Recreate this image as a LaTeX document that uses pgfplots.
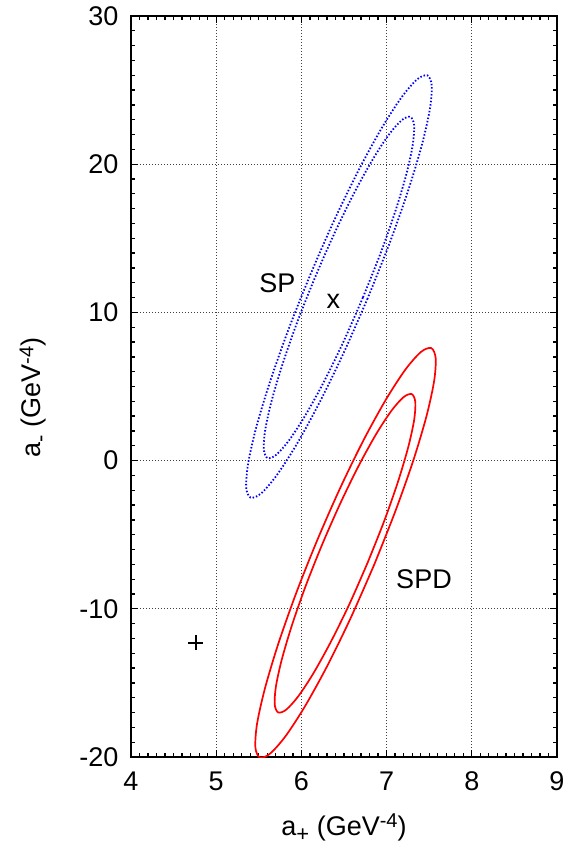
\documentclass[border=0pt]{standalone}
\usepackage{fontspec}
\setmainfont{Liberation Sans}
\usepackage{pgfplots}
\pgfplotsset{compat=1.18}
\newcommand{\sbs}[1]{\raisebox{-6.5pt}{\fontsize{22}{26}\selectfont #1}}
\newcommand{\sps}[1]{\raisebox{7.5pt}{\fontsize{20}{24}\selectfont #1}}
\begin{document}
\begin{tikzpicture}
\useasboundingbox (-131pt,-91pt) rectangle (437pt,757pt);
\begin{axis}[
  scale only axis,
  width=426pt, height=741pt,
  xmin=4, xmax=9, ymin=-20, ymax=30,
  xtick={4,5,6,7,8,9},
  ytick={-20,-10,0,10,20,30},
  minor x tick num=9,
  minor y tick num=9,
  tick align=inside,
  xtick pos=both, ytick pos=both,
  major tick length=7pt,
  minor tick length=4pt,
  every tick/.style={line width=1.3pt, black},
  axis line style={line width=2pt},
  grid=major,
  grid style={line width=0.8pt, dash pattern=on 0.8pt off 2.2pt, black!75},
  /pgf/number format/assume math mode=true,
  tick label style={font=\fontsize{27}{32}\selectfont},
  xticklabel style={yshift=-11pt},
  yticklabel style={xshift=-9pt},
  label style={font=\fontsize{27}{32}\selectfont},
  xlabel={a\sbs{+} (GeV\sps{-4})},
  ylabel={a\sbs{-} (GeV\sps{-4})},
  xlabel style={at={(axis description cs:0.5,-0.1053)}, anchor=base},
  ylabel style={at={(axis description cs:-0.2113,0.485)}, anchor=base},
  clip=true,
]
% SP, outer contour (blue dotted)
\addplot[blue, line width=1.8pt, dash pattern=on 1.5pt off 1.9pt, smooth] coordinates {
(6.777,10.939) (6.497,7.280) (6.213,3.925) (5.945,1.103) (5.710,-0.993) (5.526,-2.221) (5.403,-2.498) (5.352,-1.804) (5.375,-0.185) (5.470,2.245) (5.632,5.324) (5.848,8.841) (6.106,12.555) (6.385,16.214) (6.669,19.569) (6.938,22.391) (7.172,24.487) (7.356,25.715) (7.479,25.992) (7.530,25.298) (7.507,23.679) (7.412,21.249) (7.250,18.170) (7.034,14.653) (6.777,10.939)
};
% SP, inner contour
\addplot[blue, line width=1.8pt, dash pattern=on 1.5pt off 1.9pt, smooth] coordinates {
(6.722,11.003) (6.496,8.047) (6.266,5.338) (6.047,3.061) (5.856,1.373) (5.704,0.387) (5.603,0.169) (5.559,0.737) (5.575,2.050) (5.650,4.020) (5.779,6.511) (5.952,9.355) (6.160,12.358) (6.386,15.313) (6.616,18.022) (6.835,20.299) (7.026,21.987) (7.178,22.973) (7.279,23.191) (7.323,22.623) (7.307,21.310) (7.233,19.340) (7.104,16.849) (6.930,14.005) (6.722,11.003)
};
% SPD, outer contour (red solid)
\addplot[red, line width=1.7pt, smooth] coordinates {
(6.854,-7.029) (6.582,-10.576) (6.306,-13.827) (6.044,-16.559) (5.815,-18.586) (5.633,-19.771) (5.512,-20.033) (5.460,-19.353) (5.479,-17.778) (5.570,-15.416) (5.725,-12.428) (5.934,-9.015) (6.183,-5.413) (6.454,-1.866) (6.730,1.385) (6.992,4.117) (7.221,6.144) (7.403,7.329) (7.524,7.591) (7.576,6.911) (7.557,5.336) (7.467,2.974) (7.312,-0.014) (7.102,-3.427) (6.854,-7.029)
};
% SPD, inner contour
\addplot[red, line width=1.7pt, smooth] coordinates {
(6.777,-6.893) (6.566,-9.652) (6.350,-12.179) (6.146,-14.302) (5.967,-15.877) (5.824,-16.796) (5.729,-16.997) (5.687,-16.466) (5.701,-15.238) (5.771,-13.399) (5.891,-11.073) (6.053,-8.419) (6.247,-5.617) (6.459,-2.858) (6.674,-0.331) (6.878,1.792) (7.057,3.367) (7.200,4.286) (7.295,4.487) (7.337,3.956) (7.323,2.728) (7.253,0.889) (7.133,-1.437) (6.971,-4.091) (6.777,-6.893)
};
% plus point
\addplot[only marks, mark=+, mark size=7.5pt, line width=2.1pt, black] coordinates {(4.759,-12.29)};
\node[font=\fontsize{27}{32}\selectfont, inner sep=0pt] at (axis cs:5.719,11.98) {SP};
\node[font=\fontsize{27}{32}\selectfont, inner sep=0pt] at (axis cs:6.374,10.72) {x};
\node[font=\fontsize{27}{32}\selectfont, inner sep=0pt] at (axis cs:7.439,-8.03) {SPD};
\end{axis}
\end{tikzpicture}
\end{document}
